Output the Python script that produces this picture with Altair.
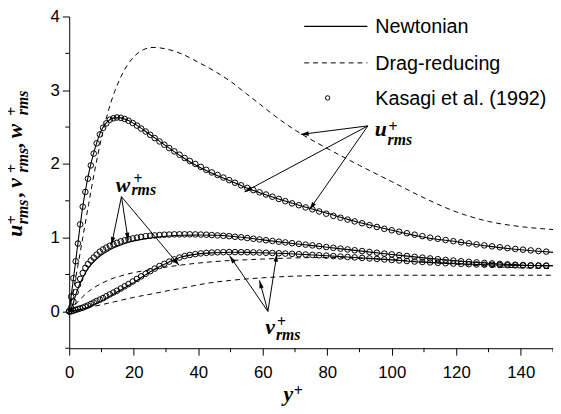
import math
import altair as alt
import pandas as pd

W, H = 490, 336
XMAX = 150.0
YMIN, YMAX = -0.5, 4.0
PAD_LEFT, PAD_TOP = 62, 6
PLOT_X0, PLOT_Y0 = 8 + PAD_LEFT, 8 + PAD_TOP   # plot's top-left on the page

# ---------------- Kasagi et al. (1992) DNS points ----------------
kas_yp = [0, 0.6, 1.3, 2.0, 2.7, 3.4, 4.2, 5.0, 5.8, 6.7,
          7.6, 8.5, 9.5, 10.5, 11.5, 12.6, 13.7, 14.8, 16.0, 17.2,
          18.4, 19.7, 21.0, 22.3, 23.7, 25.1, 26.5, 28.0, 29.5, 31.0,
          32.6, 34.2, 35.8, 37.4, 39.1, 40.8, 42.5, 44.2, 46.0, 47.8,
          49.6, 51.4, 53.3, 55.2, 57.1, 59.0, 61.0, 63.0, 65.0, 67.0,
          69.1, 71.2, 73.3, 75.4, 77.5, 79.7, 81.9, 84.1, 86.3, 88.5,
          90.8, 93.1, 95.4, 97.7, 100.0, 102.3, 104.7, 107.1, 109.5, 111.9,
          114.3, 116.7, 119.1, 121.5, 123.9, 126.3, 128.7, 131.1, 133.5, 135.9,
          138.3, 140.7, 143.1, 145.5, 147.9]
kas_u = [0, 0.2, 0.45, 0.68, 0.92, 1.18, 1.42, 1.62, 1.8, 1.98,
         2.14, 2.28, 2.4, 2.49, 2.55, 2.6, 2.62, 2.63, 2.625, 2.61,
         2.585, 2.555, 2.52, 2.48, 2.44, 2.395, 2.35, 2.305, 2.26, 2.215,
         2.17, 2.125, 2.08, 2.04, 2.0, 1.96, 1.92, 1.885, 1.85, 1.815,
         1.78, 1.745, 1.71, 1.675, 1.645, 1.615, 1.585, 1.555, 1.525, 1.495,
         1.465, 1.44, 1.41, 1.385, 1.355, 1.325, 1.295, 1.27, 1.245, 1.22,
         1.195, 1.17, 1.145, 1.12, 1.10, 1.08, 1.06, 1.04, 1.02, 1.0,
         0.985, 0.968, 0.952, 0.937, 0.922, 0.908, 0.895, 0.882, 0.87, 0.858,
         0.847, 0.837, 0.827, 0.818, 0.81]
kas_w = [0, 0.05, 0.13, 0.26, 0.36, 0.44, 0.52, 0.59, 0.64, 0.69,
         0.73, 0.77, 0.81, 0.84, 0.865, 0.89, 0.91, 0.93, 0.95, 0.965,
         0.98, 0.99, 1.0, 1.01, 1.02, 1.025, 1.03, 1.035, 1.04, 1.042,
         1.045, 1.045, 1.045, 1.045, 1.044, 1.042, 1.04, 1.035, 1.03, 1.025,
         1.02, 1.012, 1.005, 0.995, 0.985, 0.975, 0.965, 0.955, 0.945, 0.935,
         0.925, 0.915, 0.905, 0.895, 0.884, 0.873, 0.862, 0.851, 0.84, 0.829,
         0.818, 0.806, 0.795, 0.784, 0.773, 0.762, 0.751, 0.74, 0.729, 0.718,
         0.708, 0.698, 0.689, 0.68, 0.672, 0.664, 0.657, 0.65, 0.644, 0.638,
         0.633, 0.629, 0.625, 0.622, 0.62]
kas_v = [0, 0.0, 0.01, 0.02, 0.03, 0.04, 0.05, 0.065, 0.08, 0.1,
         0.12, 0.14, 0.16, 0.18, 0.205, 0.23, 0.255, 0.28, 0.31, 0.34,
         0.37, 0.405, 0.44, 0.475, 0.51, 0.545, 0.58, 0.615, 0.645, 0.675,
         0.705, 0.73, 0.75, 0.765, 0.777, 0.786, 0.793, 0.798, 0.801, 0.803,
         0.804, 0.804, 0.803, 0.802, 0.8, 0.798, 0.795, 0.792, 0.788, 0.784,
         0.78, 0.776, 0.771, 0.766, 0.761, 0.756, 0.75, 0.744, 0.738, 0.732,
         0.725, 0.718, 0.711, 0.704, 0.697, 0.69, 0.683, 0.676, 0.67, 0.664,
         0.658, 0.653, 0.648, 0.644, 0.64, 0.636, 0.633, 0.63, 0.628, 0.626,
         0.624, 0.622, 0.621, 0.62, 0.62]

# ---------------- Newtonian (solid) ----------------
newt_yp = [0, 1, 2, 3, 4, 5, 6, 7, 8, 9, 10, 12, 14, 16, 18, 20, 25, 30, 35, 40,
           45, 50, 55, 60, 70, 80, 90, 100, 110, 120, 130, 140, 150]
newt_u = [0, 0.34, 0.68, 1.03, 1.36, 1.63, 1.86, 2.05, 2.21, 2.35,
          2.46, 2.58, 2.625, 2.625, 2.595, 2.55, 2.4, 2.245, 2.095, 1.965,
          1.86, 1.77, 1.675, 1.595, 1.455, 1.33, 1.205, 1.1, 1.005, 0.945,
          0.885, 0.835, 0.8]
newt_v = [0, 0.003, 0.01, 0.02, 0.03, 0.045, 0.06, 0.08, 0.1, 0.12,
          0.14, 0.19, 0.24, 0.29, 0.34, 0.39, 0.535, 0.65, 0.74, 0.78,
          0.795, 0.802, 0.8, 0.795, 0.778, 0.755, 0.728, 0.698, 0.668, 0.647,
          0.632, 0.623, 0.618]
newt_w = [0, 0.08, 0.22, 0.34, 0.44, 0.52, 0.59, 0.645, 0.69, 0.73,
          0.765, 0.82, 0.865, 0.9, 0.93, 0.955, 0.995, 1.02, 1.033, 1.035,
          1.032, 1.02, 0.998, 0.97, 0.918, 0.87, 0.82, 0.772, 0.726, 0.686,
          0.653, 0.63, 0.618]

# ---------------- Drag-reducing (dashed) ----------------
drag_yp = [0, 2, 4, 6, 8, 10, 12, 14, 16, 18, 20, 23, 26, 30, 35, 40, 45, 50, 55, 60,
           65, 70, 80, 90, 100, 110, 120, 130, 140, 150]
drag_u = [0, 0.45, 0.95, 1.45, 1.93, 2.35, 2.7, 2.97, 3.18, 3.34,
          3.45, 3.55, 3.58, 3.56, 3.49, 3.38, 3.26, 3.12, 2.95, 2.78,
          2.61, 2.46, 2.21, 1.98, 1.76, 1.54, 1.35, 1.22, 1.15, 1.11]
drag_w = [0, 0.1, 0.19, 0.27, 0.33, 0.38, 0.42, 0.455, 0.48, 0.505,
          0.525, 0.55, 0.57, 0.6, 0.63, 0.655, 0.675, 0.69, 0.7, 0.71,
          0.718, 0.725, 0.73, 0.72, 0.7, 0.67, 0.64, 0.61, 0.59, 0.58]
drag_v = [0, 0.015, 0.03, 0.05, 0.07, 0.09, 0.11, 0.13, 0.15, 0.17,
          0.19, 0.215, 0.24, 0.275, 0.315, 0.36, 0.395, 0.42, 0.44, 0.455,
          0.468, 0.478, 0.488, 0.49, 0.49, 0.49, 0.49, 0.49, 0.49, 0.49]

# ---------------- axis ticks ----------------
x_major = [0, 20, 40, 60, 80, 100, 120, 140]
x_minor = [10, 30, 50, 70, 90, 110, 130, 150]
y_major = [0, 1, 2, 3, 4]
y_minor = [-0.5, 0.5, 1.5, 2.5, 3.5]

# ---------------- annotation arrows (data units) ----------------
arrow_x0 = [92.6, 92.6, 92.6, 16.2, 16.2, 16.2, 61.6, 61.6, 61.6]
arrow_y0 = [2.516, 2.516, 2.516, 1.556, 1.556, 1.556, 0.0, 0.0, 0.0]
arrow_x1 = [71.8, 54.3, 74.5, 13.1, 18.3, 34.1, 49.7, 59.0, 64.4]
arrow_y1 = [2.40, 1.62, 1.38, 0.90, 0.96, 0.623, 0.756, 0.42, 0.78]

# in-plot labels: main letter, superscript "+", subscript "rms"
lab_letter = ["u", "w", "v"]
lab_x = [96.6, 16.7, 62.3]
lab_y = [2.383, 1.623, -0.311]
plus_x = [100.4, 21.3, 65.8]
plus_y = [2.503, 1.796, -0.151]
rms_x = [98.7, 19.3, 64.1]
rms_y = [2.263, 1.583, -0.391]

legend_labels = ["Newtonian", "Drag-reducing", "Kasagi et al. (1992)"]

sx = W / XMAX
sy = H / (YMAX - YMIN)


def page_x(p):
    return (p - PLOT_X0) / sx


def page_y(p):
    return YMAX - (p - PLOT_Y0) / sy


def long_df(xs, series):
    frames = []
    for name, ys in series.items():
        frames.append(pd.DataFrame({"yp": xs, "val": ys, "curve": name}))
    return pd.concat(frames, ignore_index=True)


kas_df = long_df(kas_yp, {"u": kas_u, "v": kas_v, "w": kas_w})
newt_df = long_df(newt_yp, {"u": newt_u, "v": newt_v, "w": newt_w})
drag_df = long_df(drag_yp, {"u": drag_u, "v": drag_v, "w": drag_w})

angles = []
for x0, y0, x1, y1 in zip(arrow_x0, arrow_y0, arrow_x1, arrow_y1):
    dxp = (x1 - x0) * sx
    dyp = -(y1 - y0) * sy
    angles.append(math.degrees(math.atan2(dxp, -dyp)) % 360)
arrow_df = pd.DataFrame({"x0": arrow_x0, "y0": arrow_y0, "x1": arrow_x1,
                         "y1": arrow_y1, "ang": angles})

xscale = alt.Scale(domain=[0, XMAX], nice=False, zero=False)
yscale = alt.Scale(domain=[YMIN, YMAX], nice=False, zero=False)

xaxis = alt.Axis(
    values=x_major, format="d", tickSize=7,
    labelFont="Liberation Sans", labelFontSize=17, labelColor="black",
    labelPadding=10, labelFlush=False,
    domainColor="black", tickColor="black", grid=False, title=None,
)
yaxis = alt.Axis(
    values=y_major, format="d", tickSize=7,
    labelFont="Liberation Sans", labelFontSize=17, labelColor="black",
    labelPadding=3, labelFlush=False,
    domainColor="black", tickColor="black", grid=False, title=None,
)


def X(field):
    return alt.X(field, type="quantitative", scale=xscale, axis=xaxis)


def Y(field):
    return alt.Y(field, type="quantitative", scale=yscale, axis=yaxis)


newt = alt.Chart(newt_df).mark_line(
    color="black", strokeWidth=1.1, interpolate="monotone"
).encode(x=X("yp"), y=Y("val"), detail="curve:N")

drag = alt.Chart(drag_df).mark_line(
    color="black", strokeWidth=1, strokeDash=[5, 4], interpolate="monotone"
).encode(x=X("yp"), y=Y("val"), detail="curve:N")

kas = alt.Chart(kas_df).mark_point(
    shape="circle", filled=False, stroke="black", strokeWidth=1, size=32, opacity=1
).encode(x=X("yp"), y=Y("val"))

# minor ticks (outward, shorter)
xminor = alt.Chart(pd.DataFrame({"t": x_minor})).mark_rule(color="black", strokeWidth=1).encode(
    x=X("t"), y=alt.value(H), y2=alt.value(H + 4))
yminor = alt.Chart(pd.DataFrame({"t": y_minor})).mark_rule(color="black", strokeWidth=1).encode(
    y=Y("t"), x=alt.value(0), x2=alt.value(-4))

arrow_lines = alt.Chart(arrow_df).mark_rule(color="black", strokeWidth=1).encode(
    x=X("x0"), y=Y("y0"), x2="x1:Q", y2="y1:Q")
arrow_heads = alt.Chart(arrow_df).mark_point(
    shape="M0,0L0.28,1L-0.28,1Z", filled=True, color="black", size=256,
    opacity=1, strokeWidth=0
).encode(x=X("x1"), y=Y("y1"), angle=alt.Angle("ang:Q", scale=None))


def text_layer(xs, ys, texts, **kw):
    df = pd.DataFrame({"x": xs, "y": ys, "t": texts})
    return alt.Chart(df).mark_text(color="black", **kw).encode(
        x=X("x"), y=Y("y"), text="t:N")


SERIF = "Liberation Serif"
lab_text = text_layer(lab_x, lab_y, lab_letter, font=SERIF, fontSize=22, fontStyle="italic",
                      fontWeight="bold", align="center", baseline="alphabetic")
plus_text = text_layer(plus_x, plus_y, ["+"] * 3, font=SERIF, fontSize=16, fontWeight="bold",
                       align="center", baseline="middle")
rms_text = text_layer(rms_x, rms_y, ["rms"] * 3, font=SERIF, fontSize=16, fontStyle="italic",
                      fontWeight="bold", align="left", baseline="alphabetic")

# ---- axis titles built from pieces (page pixel positions) ----
yt_main_py = [231, 194, 182.5, 144, 130]
yt_main_t = ["u", ",", "v", ",", "w"]
yt_rms_py = [212, 159.5, 101.5]
yt_plus_py = [220, 168, 110]

yt1 = text_layer([page_x(22)] * 5, [page_y(p) for p in yt_main_py], yt_main_t,
                 font=SERIF, fontSize=22, fontStyle="italic", fontWeight="bold",
                 angle=270, align="center", baseline="alphabetic")
yt2 = text_layer([page_x(28)] * 3, [page_y(p) for p in yt_rms_py], ["rms"] * 3,
                 font=SERIF, fontSize=16, fontStyle="italic", fontWeight="bold",
                 angle=270, align="center", baseline="alphabetic")
yt3 = text_layer([page_x(12)] * 3, [page_y(p) for p in yt_plus_py], ["+"] * 3,
                 font=SERIF, fontSize=16, fontWeight="bold",
                 angle=270, align="center", baseline="middle")
xt1 = text_layer([page_x(292)], [page_y(403)], ["y"], font=SERIF, fontSize=22,
                 fontStyle="italic", fontWeight="bold", align="center", baseline="alphabetic")
xt2 = text_layer([page_x(302)], [page_y(393)], ["+"], font=SERIF, fontSize=16,
                 fontWeight="bold", align="center", baseline="middle")

# ---- legend ----
leg_y = [page_y(24), page_y(61), page_y(96.5)]
leg_solid = alt.Chart(pd.DataFrame({"a": [page_x(308)], "b": [page_x(372)], "y": [leg_y[0]]})).mark_rule(
    color="black", strokeWidth=1.1).encode(x=X("a"), x2="b:Q", y=Y("y"))
leg_dash = alt.Chart(pd.DataFrame({"a": [page_x(308)], "b": [page_x(372)], "y": [leg_y[1]]})).mark_rule(
    color="black", strokeWidth=1, strokeDash=[5, 4]).encode(x=X("a"), x2="b:Q", y=Y("y"))
leg_pt = alt.Chart(pd.DataFrame({"a": [page_x(331.7)], "y": [leg_y[2]]})).mark_point(
    shape="circle", filled=False, stroke="black", strokeWidth=1, size=20, opacity=1
).encode(x=X("a"), y=Y("y"))
leg_text = text_layer([page_x(380)] * 3, [page_y(25), page_y(62), page_y(97.5)], legend_labels,
                      font="Liberation Sans", fontSize=20, align="left", baseline="middle")

chart = alt.layer(
    newt, drag, kas, xminor, yminor, arrow_lines, arrow_heads, lab_text, plus_text, rms_text,
    yt1, yt2, yt3, xt1, xt2, leg_solid, leg_dash, leg_pt, leg_text,
).properties(
    width=W, height=H,
    padding={"left": PAD_LEFT, "top": PAD_TOP, "right": 0, "bottom": 62},
    autosize=alt.AutoSizeParams(type="none"),
    background="white",
).configure_view(strokeWidth=0).configure_axis(
    domainColor="black", tickColor="black", domainWidth=1, tickWidth=1, grid=False
)

chart.save("out.html", embed_options={"renderer": "svg", "actions": False})
